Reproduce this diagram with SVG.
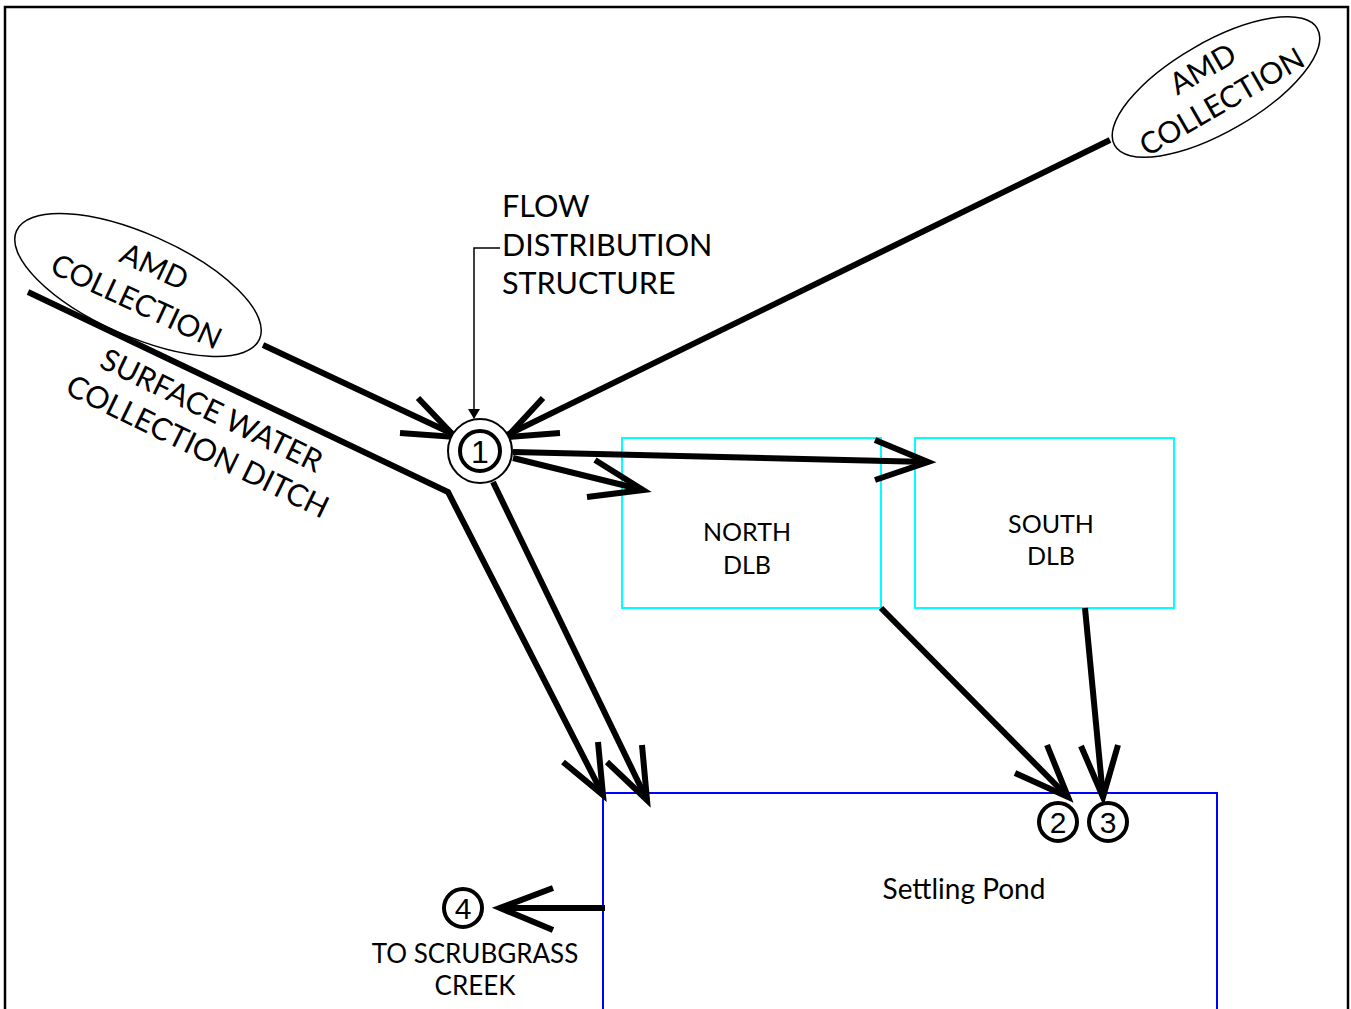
<svg xmlns="http://www.w3.org/2000/svg" width="1351" height="1009" viewBox="0 0 1351 1009">
<style>
.t{font-family:Lato,"Open Sans","Liberation Sans",sans-serif;fill:#000}
.ln{stroke:#000;stroke-width:6;fill:none;stroke-linecap:butt;stroke-linejoin:miter}
.cir{fill:#fff;stroke:#000;stroke-width:4}
.num{font-family:"Liberation Sans",Arial,sans-serif;fill:#000;text-anchor:middle}
</style>
<defs>
<marker id="tri" markerWidth="10" markerHeight="16" refX="9" refY="8" orient="auto" markerUnits="userSpaceOnUse">
<path d="M0,2 L10,8 L0,14 Z" fill="#000"/>
</marker>
</defs>
<rect x="5" y="7" width="1343" height="1010" fill="#fff" stroke="#000" stroke-width="2.5"/>

<g id="amd-left">
<ellipse cx="138" cy="285" rx="133" ry="51" transform="rotate(24 138 285)" fill="#fff" stroke="#000" stroke-width="1.5"/>
<text class="t" font-size="30" text-anchor="middle" transform="translate(150,276) rotate(25)">AMD</text>
<text class="t" font-size="30" text-anchor="middle" transform="translate(132,311) rotate(25)">COLLECTION</text>
</g>
<g id="amd-right">
<ellipse cx="1216" cy="87" rx="117" ry="45" transform="rotate(-30 1216 87)" fill="#fff" stroke="#000" stroke-width="1.5"/>
<text class="t" font-size="30" text-anchor="middle" transform="translate(1208,78) rotate(-30)">AMD</text>
<text class="t" font-size="30" text-anchor="middle" transform="translate(1227,111) rotate(-30)">COLLECTION</text>
</g>
<g id="ditch-label">
<text class="t" font-size="30.5" text-anchor="middle" transform="translate(207,420) rotate(26)">SURFACE WATER</text>
<text class="t" font-size="30.5" text-anchor="middle" transform="translate(193,456) rotate(26)">COLLECTION DITCH</text>
</g>
<g id="fds-label">
<text class="t" font-size="30.5" x="502" y="217">FLOW</text>
<text class="t" font-size="30.5" x="502" y="256">DISTRIBUTION</text>
<text class="t" font-size="30.5" x="502" y="294">STRUCTURE</text>
</g>
<g id="north-dlb">
<rect x="622" y="438" width="259" height="170" fill="none" stroke="#00ffff" stroke-width="2"/>
<text class="t" font-size="25" text-anchor="middle" x="747" y="541">NORTH</text>
<text class="t" font-size="25" text-anchor="middle" x="747" y="574">DLB</text>
</g>
<g id="south-dlb">
<rect x="915" y="438" width="259" height="170" fill="none" stroke="#00ffff" stroke-width="2"/>
<text class="t" font-size="25" text-anchor="middle" x="1051" y="533">SOUTH</text>
<text class="t" font-size="25" text-anchor="middle" x="1051" y="565">DLB</text>
</g>
<g id="settling-pond">
<rect x="603" y="793" width="614" height="220" fill="none" stroke="#0000ff" stroke-width="2"/>
<text class="t" font-size="28" text-anchor="middle" x="964" y="899">Settling Pond</text>
</g>
<g id="outlet-label">
<text class="t" font-size="26" text-anchor="middle" x="475" y="963">TO SCRUBGRASS</text>
<text class="t" font-size="26" text-anchor="middle" x="475" y="995">CREEK</text>
</g>

<g id="connectors">
<path class="ln" d="M28,292 L448,492 L603,795"/>
<path class="ln" d="M563,762 L603,795 L598,742"/>
<path class="ln" d="M493,482 L647,800"/>
<path class="ln" d="M607,762 L647,800 L642,745"/>
<path class="ln" d="M263,345 L455,435"/>
<path class="ln" d="M400,433 L455,437 L418,398"/>
<path class="ln" d="M1110,140 L507,435"/>
<path class="ln" d="M560,433 L507,437 L543,398"/>
<path class="ln" d="M513,452 L928,462"/>
<path class="ln" d="M875,440 L928,462 L875,480"/>
<path class="ln" d="M513,458 L643,490"/>
<path class="ln" d="M595,460 L643,490 L587,497"/>
<path class="ln" d="M881,608 L1068,797"/>
<path class="ln" d="M1015,773 L1068,797 L1047,745"/>
<path class="ln" d="M1085,608 L1103,797"/>
<path class="ln" d="M1081,746 L1103,797 L1118,745"/>
<path class="ln" d="M605,908 L500,908"/>
<path class="ln" d="M553,888 L500,908 L553,930"/>
<path d="M500,248 L474,248 L474,418" fill="none" stroke="#000" stroke-width="1.5" marker-end="url(#tri)"/>
</g>

<g id="node1">
<circle cx="480" cy="451" r="32" fill="#fff" stroke="#000" stroke-width="2"/>
<circle cx="480" cy="451" r="20" class="cir"/>
<text class="num" font-size="32" x="480" y="463">1</text>
</g>
<g id="node2">
<circle cx="1058" cy="822" r="19" class="cir"/>
<text class="num" font-size="30" x="1058" y="833">2</text>
</g>
<g id="node3">
<circle cx="1108" cy="822" r="19" class="cir"/>
<text class="num" font-size="30" x="1108" y="833">3</text>
</g>
<g id="node4">
<circle cx="463" cy="908" r="19" class="cir"/>
<text class="num" font-size="30" x="463" y="919">4</text>
</g>
</svg>
